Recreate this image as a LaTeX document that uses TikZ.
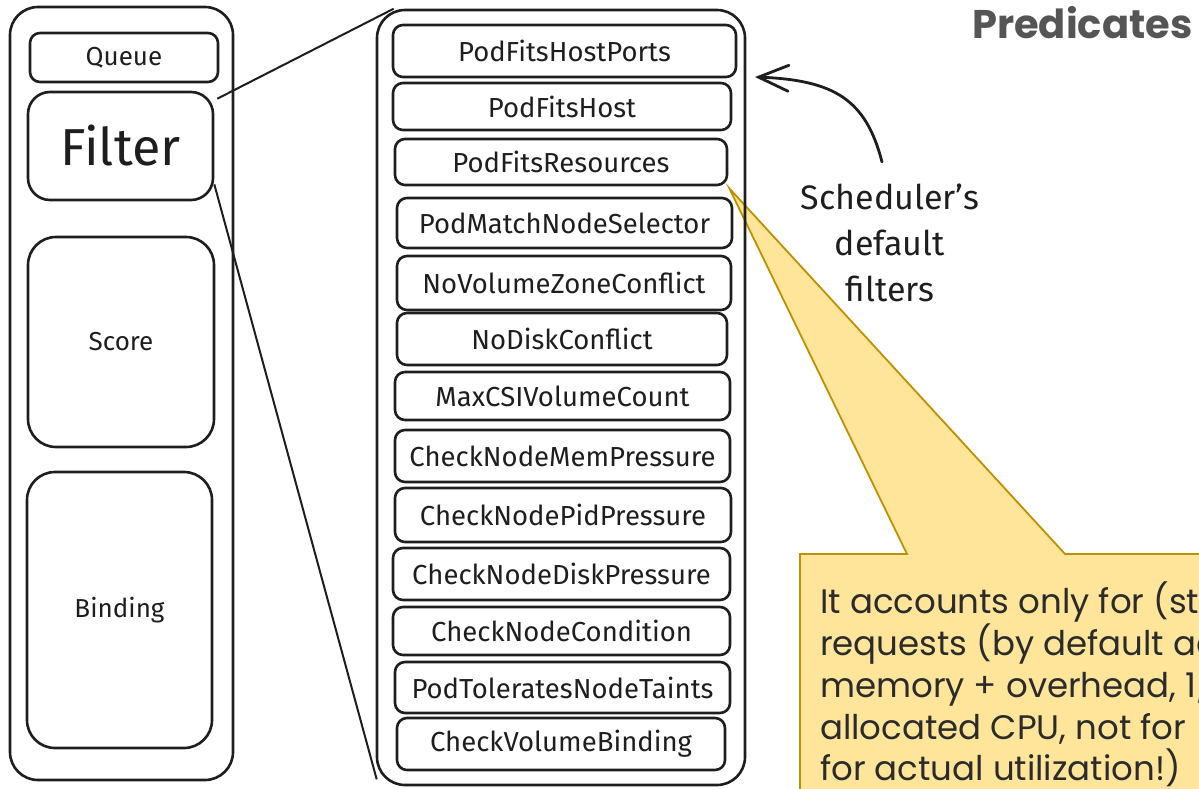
\documentclass[tikz,border=0pt]{standalone}
\usepackage{fontspec}
\setmainfont{Fira Sans}
\newfontfamily\notefont{Poppins}
\usetikzlibrary{arrows.meta,calc,backgrounds}

\definecolor{ink}{HTML}{1E1E1E}
\definecolor{titlegray}{HTML}{555555}
\definecolor{notefill}{HTML}{FFE599}
\definecolor{noteedge}{HTML}{BF9000}
\definecolor{notetext}{HTML}{2B2B2B}

\tikzset{
  sketchbox/.style={draw=ink, line width=2.6pt, rounded corners=#1, inner sep=0pt, text=ink},
  stage/.style={sketchbox=#1, font=\fontsize{26}{30}\selectfont},
  pred/.style={sketchbox=10pt, font=\fontsize{27.5}{30}\selectfont},
  zoomline/.style={draw=ink, line width=2pt},
  pointer/.style={draw=ink, line width=2.8pt, line cap=round,
    -{Straight Barb[length=30pt,width=26pt,line cap=round]}},
}

\begin{document}
\begin{tikzpicture}[x=1pt, y=-1pt, line join=round]
\useasboundingbox (0,0) rectangle (1199,788);
\clip (0,0) rectangle (1199,788);

% scheduling stages
\node[stage=28pt, minimum width=223pt, minimum height=773pt] (stages) at (121.5,393.5) {};
\node[stage=10pt, minimum width=188pt, minimum height=49pt] (queue) at (124,57.5) {Queue};
\node[stage=22pt, minimum width=185pt, minimum height=108pt,
      font=\fontsize{52}{56}\selectfont] (filter) at (120.5,146) {Filter};
\node[stage=28pt, minimum width=186pt, minimum height=210pt] (score) at (121,342) {Score};
\node[stage=28pt, minimum width=185pt, minimum height=276pt] (binding) at (119.5,610) {Binding};

% default filter predicates
\node[sketchbox=28pt, minimum width=368pt, minimum height=775pt] (preds) at (561,397.5) {};
\node[pred, minimum width=343pt, minimum height=52pt] (p1)  at (564.5,51)  {PodFitsHostPorts};
\node[pred, minimum width=338pt, minimum height=47pt] (p2)  at (562,106.5) {PodFitsHost};
\node[pred, minimum width=332pt, minimum height=46pt] (p3)  at (561,162)   {PodFitsResources};
\node[pred, minimum width=335pt, minimum height=50pt] (p4)  at (564.5,223) {PodMatchNodeSelector};
\node[pred, minimum width=334pt, minimum height=54pt] (p5)  at (564,283)   {NoVolumeZoneConflict};
\node[pred, minimum width=330pt, minimum height=52pt] (p6)  at (562,339)   {NoDiskConflict};
\node[pred, minimum width=335pt, minimum height=48pt] (p7)  at (562.5,396) {MaxCSIVolumeCount};
\node[pred, minimum width=335pt, minimum height=52pt] (p8)  at (562.5,456) {CheckNodeMemPressure};
\node[pred, minimum width=336pt, minimum height=54pt] (p9)  at (563,515)   {CheckNodePidPressure};
\node[pred, minimum width=337pt, minimum height=52pt] (p10) at (561.5,574) {CheckNodeDiskPressure};
\node[pred, minimum width=337pt, minimum height=48pt] (p11) at (561.5,631) {CheckNodeCondition};
\node[pred, minimum width=335pt, minimum height=51pt] (p12) at (562.5,687.5) {PodToleratesNodeTaints};
\node[pred, minimum width=328pt, minimum height=52pt] (p13) at (561,744)   {CheckVolumeBinding};

% callout behind the boxes
\begin{scope}[on background layer]
  \clip (0,0) rectangle (1199,788);
  \filldraw[fill=notefill, draw=noteedge, line width=1.8pt]
    (800,800) -- (800,554) -- (907,554) -- ($(p3.south east)+(1,2)$)
    -- (1065,554) -- (1210,554) -- (1210,800) -- cycle;
\end{scope}
\node[anchor=north west, align=left, inner sep=0pt, text=notetext,
      font=\notefont\fontsize{34}{41.7}\selectfont] (note) at (820,582)
  {It accounts only for (st\\requests (by default ac\\memory + overhead, 1/\\allocated CPU, not for\\for actual utilization!)};

% zoom lines from Filter to the predicate list
\draw[zoomline] ($(filter.north east)+(3,8)$) -- ($(preds.north west)+(18,0)$);
\draw[zoomline] ($(filter.south east)+(0,-17)$) -- ($(preds.south west)+(1,-7)$);

% title and annotation
\node[anchor=base west, inner sep=0pt, text=titlegray,
      font=\notefont\bfseries\fontsize{40}{48}\selectfont] (title) at (972,38) {Predicates};
\node[align=center, inner sep=0pt, text=ink, font=\fontsize{34}{46}\selectfont]
  (sched) at (890,243) {Scheduler's\\default\\filters};
\coordinate (tail) at (882,162);
\coordinate (head) at (755,77);
\draw[pointer] (tail) .. controls (866,100) and (835,80) .. (head);
\end{tikzpicture}
\end{document}
